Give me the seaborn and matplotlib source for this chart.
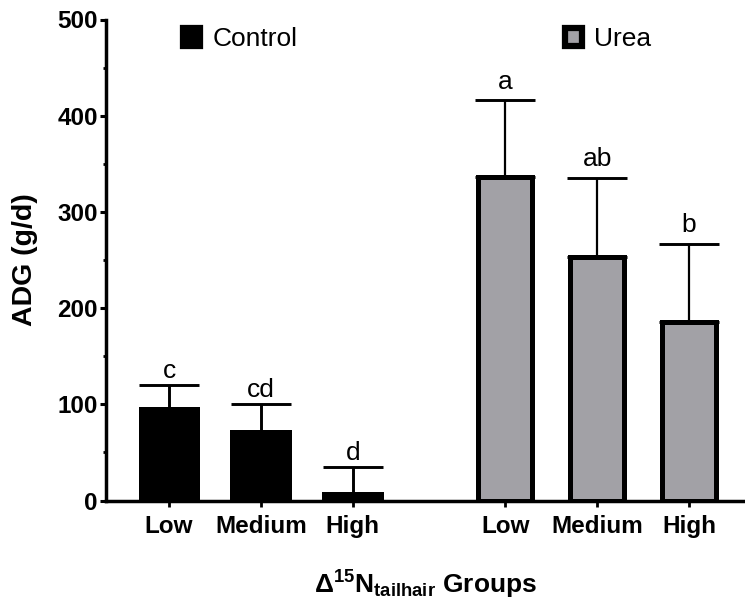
import matplotlib
matplotlib.use("Agg")
import matplotlib.pyplot as plt
import matplotlib.patches as mpatches
from matplotlib.ticker import MultipleLocator
import seaborn as sns
import pandas as pd

# ADG (g/d) by Δ15N tail-hair group, mean + SE
groups = ["Low", "Medium", "High"]
control_pos = [0.0, 1.0, 2.0]
urea_pos = [3.66, 4.66, 5.66]
control_adg = [95, 71, 7]
control_se = [25, 29, 28]
urea_adg = [336, 253, 186]
urea_se = [80, 82, 81]
control_letters = ["c", "cd", "d"]
urea_letters = ["a", "ab", "b"]

sns.set_style("ticks")
plt.rcParams["font.family"] = ["Liberation Sans", "DejaVu Sans"]
plt.rcParams["mathtext.fontset"] = "custom"
plt.rcParams["mathtext.rm"] = "Liberation Sans"
plt.rcParams["mathtext.bf"] = "Liberation Sans:bold"
for key in ("text.color", "axes.labelcolor", "xtick.color", "ytick.color",
            "axes.edgecolor"):
    plt.rcParams[key] = "black"

GREY = "#a2a1a6"

fig = plt.figure(figsize=(7.45, 6.01), dpi=100)
ax = fig.add_axes([106 / 745, 1 - 500.5 / 601, 1 - 106 / 745, (500.5 - 19.5) / 601])

ctrl = pd.DataFrame({"pos": control_pos, "adg": control_adg})
urea = pd.DataFrame({"pos": urea_pos, "adg": urea_adg})

sns.barplot(data=ctrl, x="pos", y="adg", native_scale=True, width=0.62,
            color="black", edgecolor="black", linewidth=3.6, saturation=1,
            errorbar=None, ax=ax)
sns.barplot(data=urea, x="pos", y="adg", native_scale=True, width=0.59,
            color=GREY, edgecolor="black", linewidth=3.6, saturation=1,
            errorbar=None, ax=ax)

# one-sided (upper) error bars
ax.errorbar(control_pos, control_adg, yerr=[[0] * 3, control_se], fmt="none",
            ecolor="black", elinewidth=2.1, capsize=21.6, capthick=2.1, zorder=3)
ax.errorbar(urea_pos, urea_adg, yerr=[[0] * 3, urea_se], fmt="none",
            ecolor="black", elinewidth=1.6, capsize=21.6, capthick=2.1, zorder=3)

# significance letters above the caps
for x, m, e, t in zip(control_pos, control_adg, control_se, control_letters):
    ax.annotate(t, xy=(x, m + e), xytext=(0, 5), textcoords="offset points",
                ha="center", va="baseline", fontsize=19, color="black")
for x, m, e, t in zip(urea_pos, urea_adg, urea_se, urea_letters):
    ax.annotate(t, xy=(x, m + e), xytext=(0, 8.5), textcoords="offset points",
                ha="center", va="baseline", fontsize=19, color="black")

ax.set_xlim(-0.686, 6.27)
ax.set_ylim(0, 500)
ax.set_xticks(control_pos + urea_pos)
ax.set_xticklabels(groups + groups, fontweight="bold", fontsize=17.5)
ax.yaxis.set_major_locator(MultipleLocator(100))
ax.yaxis.set_minor_locator(MultipleLocator(50))
for lab in ax.get_yticklabels():
    lab.set_fontweight("bold")
    lab.set_fontsize(17.5)

ax.tick_params(axis="y", which="major", length=4.3, width=2.2, pad=1.5,
               colors="black")
ax.tick_params(axis="y", which="minor", length=2.2, width=2.0, colors="black")
ax.tick_params(axis="x", which="major", length=4.3, width=2.0, pad=6,
               colors="black")

sns.despine(ax=ax)
for side in ("left", "bottom"):
    ax.spines[side].set_linewidth(2.5)
    ax.spines[side].set_color("black")

ax.set_ylabel("ADG (g/d)", fontsize=20.5, fontweight="bold", labelpad=14,
              color="black")
ax.set_xlabel(r"$\mathbf{Δ^{15}N_{tailhair}}$ Groups", fontsize=19,
              fontweight="bold", labelpad=22, color="black")

# two separate legend keys at the top of the plot
h_ctrl = mpatches.Patch(facecolor="black", edgecolor="black", linewidth=4.5)
h_urea = mpatches.Patch(facecolor=GREY, edgecolor="black", linewidth=4.5)
leg_kw = dict(frameon=False, fontsize=19, handlelength=0.66, handleheight=0.66,
              handletextpad=0.45, borderpad=0, borderaxespad=0, loc="center left",
              bbox_transform=fig.transFigure, labelcolor="black")
leg1 = ax.legend([h_ctrl], ["Control"], bbox_to_anchor=(183 / 745, 1 - 39.5 / 601), **leg_kw)
ax.add_artist(leg1)
ax.legend([h_urea], ["Urea"], bbox_to_anchor=(565 / 745, 1 - 39.5 / 601), **leg_kw)

fig.savefig("out.png", dpi=100)
